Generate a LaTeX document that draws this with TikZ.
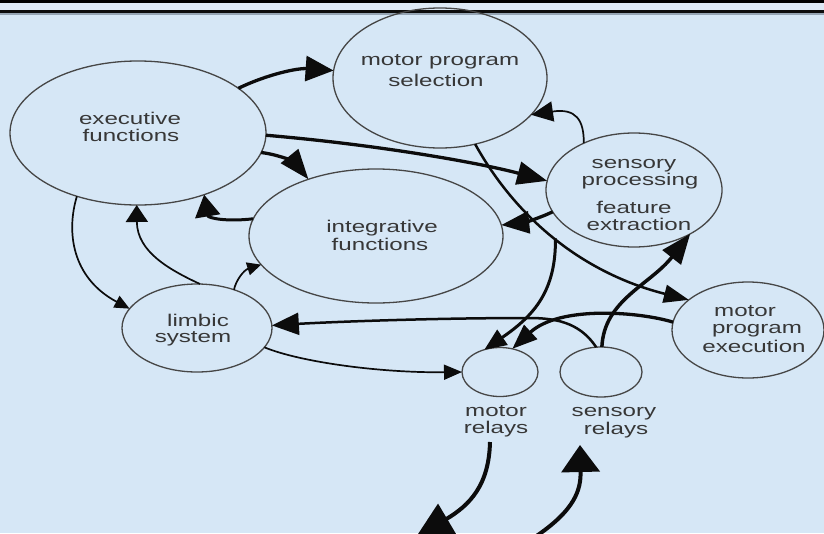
\documentclass[tikz,border=0pt]{standalone}
\usepackage{fontspec}
\setmainfont{Liberation Sans}
\usetikzlibrary{arrows.meta,shapes.geometric}
\definecolor{paper}{RGB}{214,231,246}
\definecolor{band}{RGB}{222,234,246}
\definecolor{ring}{RGB}{70,70,70}
\definecolor{ink}{RGB}{12,12,12}
\definecolor{label}{RGB}{55,55,55}
\definecolor{rule}{RGB}{150,165,180}

\begin{document}
\begin{tikzpicture}[x=1pt,y=1pt,
  bubble/.style={ellipse,draw=ring,line width=1.3pt,inner sep=0pt,outer sep=0pt},
  lbl/.style={font=\fontsize{17}{17}\selectfont,text=label,xscale=1.42,inner sep=0pt,anchor=base},
  heavyline/.style={draw=ink,line width=3.3pt},
  medline/.style={draw=ink,line width=2.5pt},
  thinline/.style={draw=ink,line width=1.7pt},
  headsize/.style 2 args={-{Triangle[length=#1pt,width=#2pt]}},
]
\useasboundingbox (0,0) rectangle (824,-533);
\fill[paper] (0,0) rectangle (824,-533);

% window strip along the top edge
\fill[black] (0,0) rectangle (824,-3);
\fill[band] (0,-3) rectangle (824,-10);
\fill[ink] (0,-10) rectangle (824,-13);
\fill[rule] (0,-13) rectangle (824,-15);

% functional areas
\node[bubble,minimum width=256pt,minimum height=144pt] (exec)   at (138,-133) {};
\node[bubble,minimum width=214pt,minimum height=140pt] (mps)    at (440,-78)  {};
\node[bubble,minimum width=176pt,minimum height=114pt] (sp)     at (634,-190) {};
\node[bubble,minimum width=254pt,minimum height=134pt] (integ)  at (376,-236) {};
\node[bubble,minimum width=150pt,minimum height=88pt]  (limbic) at (197,-328) {};
\node[bubble,minimum width=152pt,minimum height=96pt]  (mpe)    at (748,-330) {};
\node[bubble,minimum width=76pt,minimum height=49pt]   (mr)     at (500,-372) {};
\node[bubble,minimum width=82pt,minimum height=50pt]   (sr)     at (601,-372) {};

% labels
\node[lbl] (execA)   at (130,-124) {executive};
\node[lbl] (execB)   at (131,-141) {functions};
\node[lbl] (mpsA)    at (440,-65)  {motor program};
\node[lbl] (mpsB)    at (436,-86)  {selection};
\node[lbl] (spA)     at (634,-168) {sensory};
\node[lbl] (spB)     at (640,-185) {processing};
\node[lbl] (spC)     at (634,-213) {feature};
\node[lbl] (spD)     at (639,-230) {extraction};
\node[lbl] (integA)  at (382,-232) {integrative};
\node[lbl] (integB)  at (380,-250) {functions};
\node[lbl] (limbicA) at (198,-326) {limbic};
\node[lbl] (limbicB) at (193,-342) {system};
\node[lbl] (mpeA)    at (745,-316) {motor};
\node[lbl] (mpeB)    at (757,-333) {program};
\node[lbl] (mpeC)    at (754,-352) {execution};
\node[lbl] (mrA)     at (496,-416) {motor};
\node[lbl] (mrB)     at (496,-433) {relays};
\node[lbl] (srA)     at (614,-416) {sensory};
\node[lbl] (srB)     at (616,-434) {relays};

% loose ends of the two outside pathways
\coordinate (mrout)  at (490,-442);
\coordinate (mrend)  at (416,-537);
\coordinate (srin)   at (535,-537);
\coordinate (srend)  at (580,-445);

% connections
\draw[heavyline,headsize={28}{25}] (exec.24) .. controls (268,-74) and (298,-68) .. (mps.176);
\draw[heavyline,headsize={30}{23}] (exec.-1) .. controls (380,-145) and (480,-163) .. (sp.174);
\draw[heavyline,headsize={30}{22}] (exec.-9) .. controls (282,-155) and (296,-164) .. (integ.140);
\draw[heavyline,line width=3pt,headsize={22}{25}] (integ.172) .. controls (226,-222) and (208,-218) .. (exec.-43);
\draw[thinline,headsize={17}{22}] (limbic.86) .. controls (170,-270) and (137,-252) .. (exec.-91);
\draw[thinline,headsize={15}{13}] (exec.-134) .. controls (66,-232) and (72,-278) .. (limbic.164);
\draw[thinline,headsize={14}{13}] (limbic.46) .. controls (236,-280) and (244,-270) .. (integ.-166);
\draw[thinline,headsize={18}{15}] (limbic.-16) .. controls (300,-362) and (380,-373) .. (mr.180);
\draw[medline,headsize={27}{22}] (sr.101) .. controls (582,-326) and (562,-318) .. (530,-318)
      .. controls (430,-318) and (330,-322) .. (limbic.2);
\draw[heavyline,headsize={25}{19}] (mpe.174) .. controls (640,-312) and (560,-305) .. (mr.62);
\draw[medline,headsize={25}{18}] (mps.-62) .. controls (520,-225) and (590,-275) .. (mpe.153)
      coordinate[pos=0.47] (fork);
\draw[heavyline,line width=3pt,headsize={22}{18}] (fork) .. controls (556,-290) and (535,-315) .. (mr.125);
\draw[heavyline,headsize={28}{22}] (sp.-165) .. controls (540,-218) and (522,-223) .. (integ.5);
\draw[thinline,headsize={22}{20}] (sp.137) .. controls (584,-120) and (576,-108) .. (mps.-22);
\draw[heavyline,line width=3.5pt,headsize={30}{23}] (sr.88) .. controls (604,-300) and (650,-285) .. (sp.-38);
\draw[heavyline,line width=4pt,headsize={36}{34}] (mrout) .. controls (489,-485) and (470,-505) .. (mrend);
\draw[heavyline,line width=4pt,headsize={27}{38}] (srin) .. controls (575,-510) and (581,-490) .. (srend);
\end{tikzpicture}
\end{document}
